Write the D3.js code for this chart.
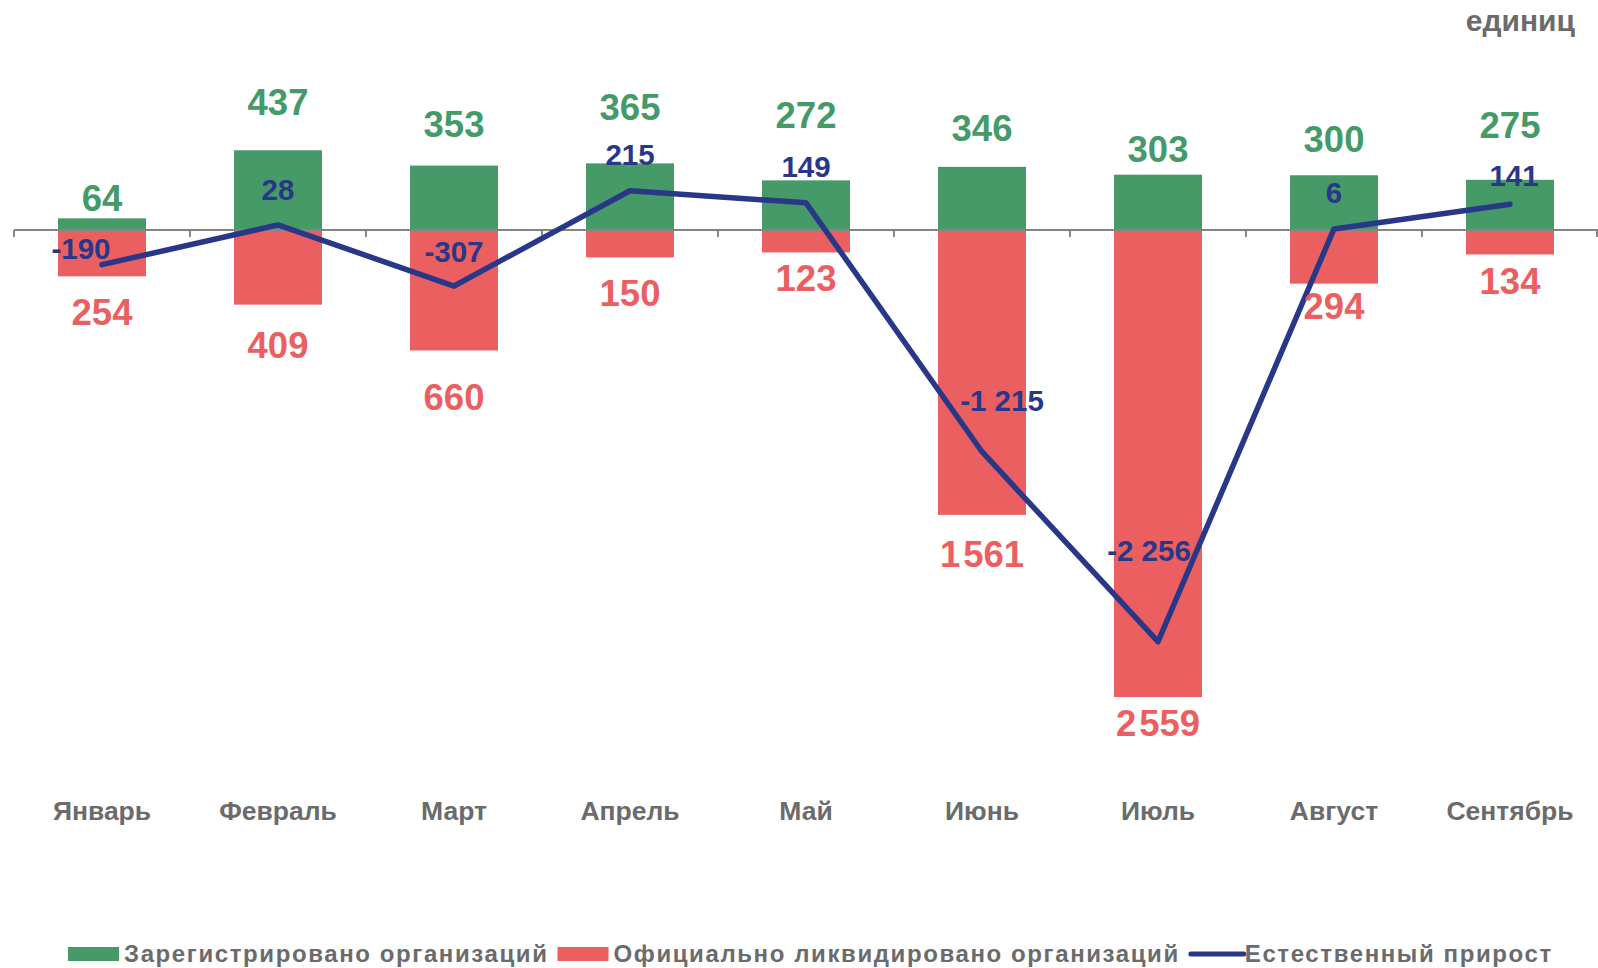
<!DOCTYPE html>
<html>
<head>
<meta charset="utf-8">
<script src="https://cdn.jsdelivr.net/npm/d3@7"></script>
<style>
  body { margin: 0; background: #fff; }
  svg { display: block; font-family: "Liberation Sans", Arial, sans-serif; font-weight: bold; }
</style>
</head>
<body>
<svg width="1598" height="968"></svg>
<script>
// data
var months = ["Январь", "Февраль", "Март", "Апрель", "Май", "Июнь", "Июль", "Август", "Сентябрь"]
var registered = [64, 437, 353, 365, 272, 346, 303, 300, 275]
var liquidated = [254, 409, 660, 150, 123, 1561, 2559, 294, 134]
var netGrowth = [-190, 28, -307, 215, 149, -1215, -2256, 6, 141]

// label nudges (px), the labels were moved by hand in the original
var regLabelDy = [-7, -35, -29, -43, -52, -26, -13, -23, -42]
var liqLabelDy = [49, 53, 60, 49, 39, 52, 39, 35, 40]
var netLabelDx = [-21, 0, 0, 0, 0, 20, -9, 0, 4]
var netLabelDy = [-6, -25, -24, -26, -26, -41, -81, -26, -18]

var green = "#459a67", red = "#eb5f61", navy = "#283787", grey = "#6b6b6b"

var svg = d3.select("svg")

var x = d3.scaleBand().domain(months).range([14, 1598]).padding(0)
var y = d3.scaleLinear().domain([-3000, 1000]).range([777.5, 47.5])
var barW = x.bandwidth() * 0.5
var cx = function(m) { return x(m) + x.bandwidth() / 2 }

var bigFmt = d3.formatLocale({decimal: ",", thousands: "\u200A", grouping: [3], currency: ["", ""], minus: "-"}).format(",d")
var netFmt = d3.formatLocale({decimal: ",", thousands: " ", grouping: [3], currency: ["", ""], minus: "-"}).format(",d")

var rows = months.map(function(m, i) {
    return {m: m, reg: registered[i], liq: liquidated[i], net: netGrowth[i], i: i}
})

// bars
svg.append("g").selectAll("rect")
    .data(rows).enter().append("rect")
    .attr("x", function(d) { return cx(d.m) - barW / 2 })
    .attr("y", function(d) { return y(d.reg) })
    .attr("width", barW)
    .attr("height", function(d) { return y(0) - y(d.reg) })
    .attr("fill", green)

svg.append("g").selectAll("rect")
    .data(rows).enter().append("rect")
    .attr("x", function(d) { return cx(d.m) - barW / 2 })
    .attr("y", y(0))
    .attr("width", barW)
    .attr("height", function(d) { return y(-d.liq) - y(0) })
    .attr("fill", red)

// zero axis with ticks between categories
var axis = svg.append("g").attr("stroke", "#858585").attr("stroke-width", 2)
axis.append("line")
    .attr("x1", x.range()[0]).attr("x2", x.range()[1])
    .attr("y1", y(0)).attr("y2", y(0))
var edges = months.map(function(m) { return x(m) }).concat([x.range()[1] - 1])
axis.selectAll(".tick").data(edges).enter().append("line")
    .attr("x1", function(d) { return d }).attr("x2", function(d) { return d })
    .attr("y1", y(0)).attr("y2", y(0) + 7)

// line
var line = d3.line()
    .x(function(d) { return cx(d.m) })
    .y(function(d) { return y(d.net) })
svg.append("path")
    .datum(rows)
    .attr("d", line)
    .attr("fill", "none")
    .attr("stroke", navy)
    .attr("stroke-width", 5.5)
    .attr("stroke-linejoin", "round")
    .attr("stroke-linecap", "round")

// value labels
svg.append("g").selectAll("text")
    .data(rows).enter().append("text")
    .attr("x", function(d) { return cx(d.m) })
    .attr("y", function(d) { return y(d.reg) + regLabelDy[d.i] })
    .attr("text-anchor", "middle")
    .attr("font-size", 36.5)
    .attr("fill", green)
    .text(function(d) { return bigFmt(d.reg) })

svg.append("g").selectAll("text")
    .data(rows).enter().append("text")
    .attr("x", function(d) { return cx(d.m) })
    .attr("y", function(d) { return y(-d.liq) + liqLabelDy[d.i] })
    .attr("text-anchor", "middle")
    .attr("font-size", 36.5)
    .attr("fill", red)
    .text(function(d) { return bigFmt(d.liq) })

svg.append("g").selectAll("text")
    .data(rows).enter().append("text")
    .attr("x", function(d) { return cx(d.m) + netLabelDx[d.i] })
    .attr("y", function(d) { return y(d.net) + netLabelDy[d.i] })
    .attr("text-anchor", "middle")
    .attr("font-size", 29.5)
    .attr("fill", navy)
    .text(function(d) { return netFmt(d.net) })

// month names
svg.append("g").selectAll("text")
    .data(months).enter().append("text")
    .attr("x", function(d) { return cx(d) })
    .attr("y", 820)
    .attr("text-anchor", "middle")
    .attr("font-size", 26.5)
    .attr("fill", grey)
    .text(function(d) { return d })

// units
svg.append("text")
    .attr("x", 1575).attr("y", 31)
    .attr("text-anchor", "end")
    .attr("font-size", 30)
    .attr("fill", grey)
    .text("единиц")

// legend
var legendItems = [
    {name: "Зарегистрировано организаций", type: "rect", color: green},
    {name: "Официально ликвидировано организаций", type: "rect", color: red},
    {name: "Естественный прирост", type: "line", color: navy}
]
var legend = svg.append("g").attr("transform", "translate(68,0)")
var lx = 0
legendItems.forEach(function(it) {
    if (it.type == "rect") {
        legend.append("rect").attr("x", lx).attr("y", 947).attr("width", 51).attr("height", 14).attr("fill", it.color)
    } else {
        legend.append("line").attr("x1", lx + 2).attr("x2", lx + 55).attr("y1", 954).attr("y2", 954)
            .attr("stroke", it.color).attr("stroke-width", 5).attr("stroke-linecap", "round")
    }
    var t = legend.append("text")
        .attr("x", lx + 56).attr("y", 962)
        .attr("font-size", 24)
        .attr("letter-spacing", 1.6)
        .attr("fill", grey)
        .text(it.name)
    lx += 56 + t.node().getComputedTextLength() + 9
})
</script>
</body>
</html>
